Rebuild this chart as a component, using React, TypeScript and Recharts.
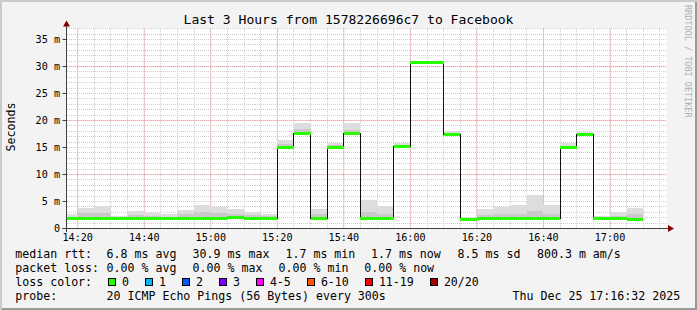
import { ComposedChart, Area, Line, XAxis, YAxis, CartesianGrid } from "recharts";

// 5-minute rrd steps, each value covers [time, next time)
const TIMES = [
  "14:15", "14:20", "14:25", "14:30", "14:35", "14:40", "14:45", "14:50", "14:55",
  "15:00", "15:05", "15:10", "15:15", "15:20", "15:25", "15:30", "15:35", "15:40",
  "15:45", "15:50", "15:55", "16:00", "16:05", "16:10", "16:15", "16:20", "16:25",
  "16:30", "16:35", "16:40", "16:45", "16:50", "16:55", "17:00", "17:05", "17:10",
];

// median rtt, ms
const MEDIAN = [
  1.85, 1.8, 1.8, 1.8, 1.8, 1.8, 1.8, 1.8, 1.8, 1.8, 2.0, 1.8, 1.8, 15.05, 17.6, 1.8, 15.05, 17.6,
  1.85, 1.85, 15.1, 30.8, 30.8, 17.5, 1.65, 1.8, 1.8, 1.8, 1.8, 1.8, 14.95, 17.5, 1.85, 1.8, 1.7,
];

// smoke: lowest ping, upper edge of the dense part, highest ping
const SMOKE_LOW = [
  1.7, 1.65, 1.7, 1.7, 1.7, 1.7, 1.7, 1.7, 1.7, 1.7, 1.85, 1.65, 1.7, 15.0, 17.5, 1.7, 15.0, 17.5,
  1.75, 1.75, 15.0, 30.7, 30.7, 17.4, 1.55, 1.7, 1.7, 1.7, 1.7, 1.7, 14.85, 17.4, 1.75, 1.7, 1.6,
];
const SMOKE_MID = [
  2.2, 2.8, 2.9, 2.0, 2.5, 2.4, 2.2, 2.6, 3.0, 2.8, 2.7, 2.5, 2.3, 15.6, 18.4, 2.6, 15.4, 18.3,
  3.0, 2.7, 15.5, 30.95, 30.85, 17.7, 1.9, 2.5, 2.6, 2.7, 3.2, 2.7, 15.3, 17.7, 2.0, 2.3, 2.6,
];
const SMOKE_HIGH = [
  2.6, 3.85, 4.2, 2.3, 3.25, 2.95, 2.7, 3.5, 4.4, 4.0, 3.6, 3.1, 2.7, 16.4, 19.6, 3.6, 15.9, 19.6,
  5.3, 4.2, 15.9, 31.1, 30.95, 18.0, 2.2, 3.6, 4.0, 4.35, 6.2, 4.35, 15.9, 17.95, 2.25, 3.05, 3.85,
];

const X_TICKS = ["14:20", "14:40", "15:00", "15:20", "15:40", "16:00", "16:20", "16:40", "17:00"];
const Y_TICKS = [0, 5, 10, 15, 20, 25, 30, 35];

const LOSS_COLORS = [
  { label: "0", color: "#26ff00", x: 108.5 },
  { label: "1", color: "#00b8ff", x: 145.5 },
  { label: "2", color: "#0059ff", x: 182.5 },
  { label: "3", color: "#7e00ff", x: 219.5 },
  { label: "4-5", color: "#ff00ff", x: 256.5 },
  { label: "6-10", color: "#ff5500", x: 307.5 },
  { label: "11-19", color: "#ff0000", x: 365.5 },
  { label: "20/20", color: "#a00000", x: 430.5 },
];

const toMin = (s: string) => {
  const [h, m] = s.split(":").map(Number);
  return h * 60 + m;
};
const fmtTime = (v: number) => `${Math.floor(v / 60)}:${String(Math.round(v % 60)).padStart(2, "0")}`;

const rows = TIMES.map((s, i) => {
  const k = Math.min(i, MEDIAN.length - 1);
  return {
    t: toMin(s),
    median: MEDIAN[k],
    base: SMOKE_LOW[k],
    dark: SMOKE_MID[k] - SMOKE_LOW[k],
    light: SMOKE_HIGH[k] - SMOKE_MID[k],
  };
});

// horizontal green pieces only, the black step line gives the verticals
const greenRows = MEDIAN.flatMap((v, i) => [
  { t: toMin(TIMES[i]), v },
  { t: toMin(TIMES[i + 1]), v },
  { t: toMin(TIMES[i + 1]), v: null },
]);

const X_DOMAIN = [856.63, 1036.98];
const Y_MAX = 37.037;

const minorX: number[] = [];
for (let m = 860; m < X_DOMAIN[1]; m += 5) minorX.push(m);
const minorY: number[] = [];
for (let v = 1; v <= 37; v++) minorY.push(v);

const MONO = "DejaVu Sans Mono";
const axisFont = { fontFamily: MONO, fontSize: 10.15, fill: "#000" };

// rrdtool draws on whole pixels, so no antialiasing on the marks
const crisp = `
.smoke-chart .recharts-line-curve,
.smoke-chart .recharts-area-area { shape-rendering: crispEdges; }
`;

export default function App() {
  return (
    <div
      className="smoke-chart"
      style={{
        position: "absolute",
        left: 0,
        top: 0,
        width: 697,
        height: 310,
        background: "#f3f3f3",
        boxShadow: "inset 2px 2px 0 #cbcbcb, inset -2px -2px 0 #999999",
      }}
    >
      <style>{crisp}</style>
      <ComposedChart
        width={697}
        height={310}
        data={rows}
        margin={{ top: 28.5, right: 30.5, bottom: 61.5, left: 16.5 }}
      >
        <CartesianGrid
          fill="#ffffff"
          stroke="#cdcdcd"
          strokeDasharray="1 1"
          shapeRendering="crispEdges"
          horizontalValues={minorY}
          verticalValues={minorX}
        />
        <CartesianGrid
          stroke="#f09898"
          strokeDasharray="1 1"
          horizontalValues={[10, 20, 30]}
          verticalValues={X_TICKS.map(toMin)}
        />
        <XAxis
          type="number"
          dataKey="t"
          domain={X_DOMAIN}
          allowDataOverflow
          ticks={X_TICKS.map(toMin)}
          tickFormatter={fmtTime}
          interval={0}
          height={20}
          axisLine={false}
          tickLine={false}
          tickSize={3}
          tickMargin={2}
          tick={axisFont}
        />
        <YAxis
          type="number"
          domain={[0, Y_MAX]}
          allowDataOverflow
          ticks={Y_TICKS}
          tickFormatter={(v: number) => (v === 0 ? "0" : `${v} m`)}
          interval={0}
          width={50}
          axisLine={false}
          tickLine={{ stroke: "#404040" }}
          tickSize={4}
          tickMargin={2.5}
          tick={axisFont}
        />
        <Area type="stepAfter" dataKey="base" stackId="smoke" stroke="none" fill="none" isAnimationActive={false} />
        <Area type="stepAfter" dataKey="dark" stackId="smoke" stroke="none" fill="#c9c9c9" fillOpacity={1} isAnimationActive={false} />
        <Area type="stepAfter" dataKey="light" stackId="smoke" stroke="none" fill="#dddddd" fillOpacity={1} isAnimationActive={false} />
        <Line type="stepAfter" dataKey="median" stroke="#111111" strokeWidth={1} dot={false} isAnimationActive={false} />
        <Line
          data={greenRows}
          type="linear"
          dataKey="v"
          stroke="#26ff00"
          strokeWidth={3}
          dot={false}
          connectNulls={false}
          isAnimationActive={false}
        />
      </ComposedChart>

      <svg
        width={697}
        height={310}
        style={{ position: "absolute", left: 0, top: 0, pointerEvents: "none" }}
        fontFamily={MONO}
      >
        {/* axes with arrows */}
        <line x1={62.5} y1={228.5} x2={670} y2={228.5} stroke="#404040" />
        <line x1={66.5} y1={232} x2={66.5} y2={25} stroke="#404040" />
        <polygon points="674,228.5 668,225 668,232" fill="#800000" />
        <polygon points="66.5,20.5 63,26.5 70,26.5" fill="#800000" />

        <text x={348.5} y={23.5} fontSize={13.05} textAnchor="middle" fill="#000">
          Last 3 Hours from 1578226696c7 to Facebook
        </text>
        <text transform="translate(15,127) rotate(-90)" fontSize={11.6} textAnchor="middle" fill="#000">
          Seconds
        </text>
        <text transform="translate(685,5) rotate(90)" fontSize={8.5} fill="#b0b0b0">
          RRDTOOL / TOBI OETIKER
        </text>

        <g fontSize={11.6} fill="#000">
          <text x={15.3} y={258}>median rtt:</text>
          <text x={106.6} y={258}>6.8 ms avg</text>
          <text x={192.6} y={258}>30.9 ms max</text>
          <text x={285.5} y={258}>1.7 ms min</text>
          <text x={371} y={258}>1.7 ms now</text>
          <text x={457.6} y={258}>8.5 ms sd</text>
          <text x={537} y={258}>800.3 m am/s</text>

          <text x={15.3} y={272}>packet loss:</text>
          <text x={106.6} y={272}>0.00 % avg</text>
          <text x={192.6} y={272}>0.00 % max</text>
          <text x={278.6} y={272}>0.00 % min</text>
          <text x={364.3} y={272}>0.00 % now</text>

          <text x={15.3} y={286}>loss color:</text>
          {LOSS_COLORS.map((c) => (
            <g key={c.label}>
              <rect x={c.x} y={278.5} width={7} height={7} fill={c.color} stroke="#000" />
              <text x={c.x + 13.4} y={286}>{c.label}</text>
            </g>
          ))}

          <text x={15.3} y={300}>probe:</text>
          <text x={106.6} y={300}>20 ICMP Echo Pings (56 Bytes) every 300s</text>
          <text x={512.6} y={300}>Thu Dec 25 17:16:32 2025</text>
        </g>
      </svg>
    </div>
  );
}
